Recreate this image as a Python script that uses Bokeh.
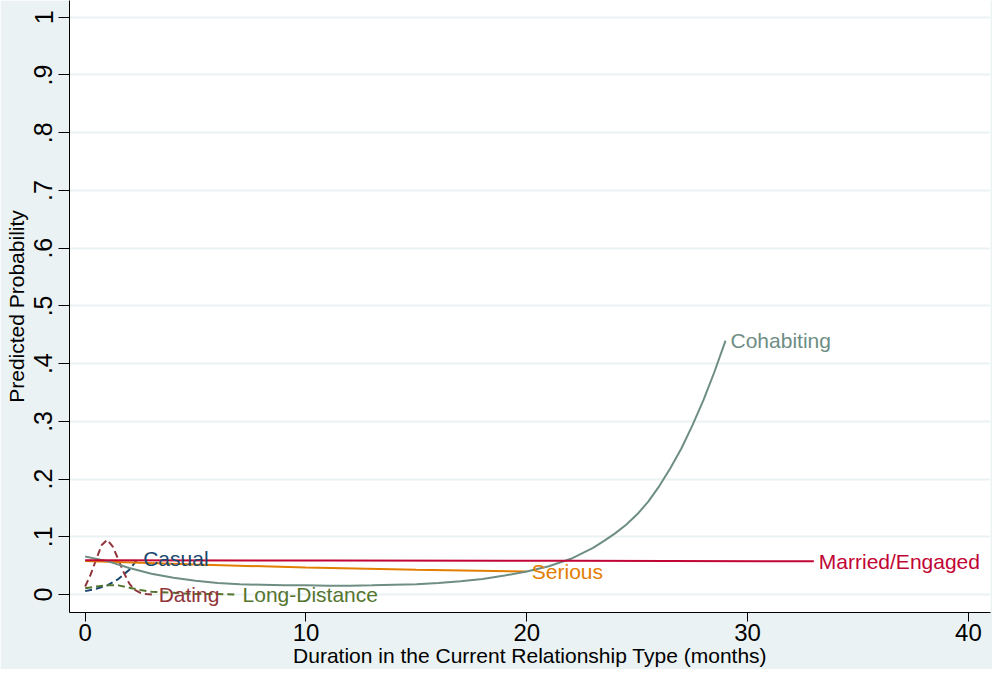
from bokeh.plotting import figure
from bokeh.models import FixedTicker, ColumnDataSource, Range1d
from bokeh.core.properties import value
from bokeh.embed import file_html
from bokeh.resources import INLINE

# ---- data ----
casual_x = [0, 0.5, 1.0, 1.5, 2.0, 2.4]
casual_y = [0.006, 0.010, 0.016, 0.027, 0.043, 0.063]

dating_x = [0, 0.25, 0.5, 0.75, 1.0, 1.25, 1.5, 1.75, 2.0, 2.25, 2.5, 2.75, 3.1]
dating_y = [0.014, 0.035, 0.061, 0.086, 0.095, 0.083, 0.061, 0.038, 0.019, 0.008, 0.003, 0.001, 0.0]

longd_x = [0, 0.5, 1.0, 1.5, 2.0, 2.5, 3.0, 4.0, 5.0, 6.0, 6.9]
longd_y = [0.011, 0.014, 0.016, 0.016, 0.012, 0.008, 0.005, 0.003, 0.001, 0.001, 0.0]

serious_x = [0, 5, 10, 15, 20]
serious_y = [0.058, 0.052, 0.047, 0.043, 0.040]

cohab_x = [0, 1, 2, 3, 4, 5, 6, 7, 8, 9, 10, 11, 12, 13, 14, 15, 16, 17, 18, 19,
           20, 21, 22, 23, 23.5, 24, 24.5, 25, 25.5, 26, 26.5, 27, 27.5, 28, 28.5, 29]
cohab_y = [0.066, 0.058, 0.046, 0.036, 0.029, 0.024, 0.020, 0.018, 0.017, 0.016,
           0.016, 0.0155, 0.0155, 0.016, 0.017, 0.018, 0.020, 0.023, 0.027, 0.033,
           0.040, 0.049, 0.062, 0.081, 0.093, 0.106, 0.121, 0.139, 0.161, 0.188,
           0.219, 0.253, 0.293, 0.337, 0.386, 0.440]

married_x = [0, 11, 22, 33]
married_y = [0.0595, 0.059, 0.0585, 0.0578]

series_names = ["Casual", "Dating", "Long-Distance", "Serious", "Cohabiting", "Married/Engaged"]
series_colors = ["#1A476F", "#90353B", "#55752F", "#E37E00", "#6E8E84", "#C10534"]
series_dashed = [True, True, True, False, False, False]

x_ticks = [0, 10, 20, 30, 40]
y_ticks = [0, 0.1, 0.2, 0.3, 0.4, 0.5, 0.6, 0.7, 0.8, 0.9, 1.0]
y_tick_labels = ["0", ".1", ".2", ".3", ".4", ".5", ".6", ".7", ".8", ".9", "1"]

x_title = "Duration in the Current Relationship Type (months)"
y_title = "Predicted Probability"

FONT = "Liberation Sans"

p = figure(width=992, height=669, output_backend="svg", toolbar_location=None,
           x_range=Range1d(-0.71, 41.0), y_range=Range1d(-0.031, 1.029),
           min_border_left=69, min_border_right=2, min_border_top=0, min_border_bottom=50)

p.outline_line_color = None
p.background_fill_color = "white"
p.border_fill_color = "#EAF2F3"

p.xgrid.visible = False
p.ygrid.grid_line_color = "#EAF2F3"
p.ygrid.grid_line_width = 2

for ax in (p.xaxis[0], p.yaxis[0]):
    ax.axis_line_color = "black"
    ax.axis_line_width = 1
    ax.major_tick_line_color = "black"
    ax.major_tick_in = 0
    ax.minor_tick_line_color = None
    ax.major_label_text_font = FONT
    ax.major_label_text_color = "black"
    ax.axis_label_text_font = FONT
    ax.axis_label_text_font_size = "21px"
    ax.axis_label_text_font_style = "normal"
    ax.axis_label_text_color = "black"

p.xaxis[0].ticker = FixedTicker(ticks=x_ticks)
p.xaxis[0].axis_label = x_title
p.xaxis[0].major_tick_out = 9
p.xaxis[0].major_label_text_font_size = "24px"
p.xaxis[0].major_label_standoff = 2
p.xaxis[0].axis_label_standoff = 0

p.yaxis[0].ticker = FixedTicker(ticks=y_ticks)
p.yaxis[0].major_label_overrides = {t: l for t, l in zip(y_ticks, y_tick_labels)}
p.yaxis[0].major_label_orientation = "vertical"
p.yaxis[0].major_label_text_font_size = "25px"
p.yaxis[0].major_tick_out = 11
p.yaxis[0].axis_label = y_title
p.yaxis[0].major_label_standoff = 6
p.yaxis[0].axis_label_standoff = 4

all_x = [casual_x, dating_x, longd_x, serious_x, cohab_x, married_x]
all_y = [casual_y, dating_y, longd_y, serious_y, cohab_y, married_y]

for xs, ys, c, d in zip(all_x, all_y, series_colors, series_dashed):
    p.line(xs, ys, line_color=c, line_width=2,
           line_dash="7 4" if d else "solid")

lab_src = ColumnDataSource(dict(
    x=[xs[-1] for xs in all_x],
    y=[ys[-1] for ys in all_y],
    t=series_names,
    c=series_colors,
))
p.text(x="x", y="y", text="t", text_color="c", source=lab_src,
       text_font=value(FONT), text_font_size="21px",
       text_align="left", text_baseline="middle", x_offset=5)

open("out.html", "w").write(file_html(p, INLINE))
